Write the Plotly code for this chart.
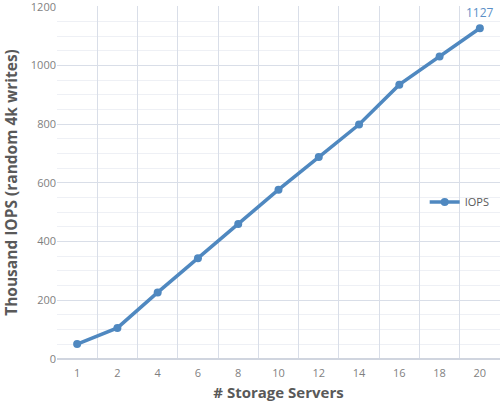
import plotly.graph_objects as go

servers = ["1", "2", "4", "6", "8", "10", "12", "14", "16", "18", "20"]
iops = [51, 106, 227, 343, 460, 577, 688, 799, 935, 1031, 1127]
y_ticks = [0, 200, 400, 600, 800, 1000, 1200]

blue = "#4f88c0"

fig = go.Figure()
fig.add_trace(go.Scatter(
    x=servers, y=iops, mode="lines+markers", name="IOPS",
    line=dict(color=blue, width=3.5),
    marker=dict(color=blue, size=8),
    cliponaxis=False,
))
fig.add_annotation(x=len(servers) - 1, y=iops[-1], text=str(iops[-1]), showarrow=False,
                   yshift=16, font=dict(family="Open Sans", size=12, color="#5b8fc7"))

fig.update_layout(
    width=500, height=406,
    margin=dict(l=57, r=0, t=6, b=47, autoexpand=False),
    paper_bgcolor="white", plot_bgcolor="white",
    font=dict(family="Open Sans", color="#7f7f7f", size=11),
    showlegend=True,
    legend=dict(x=0.83, y=0.445, xanchor="left", yanchor="middle",
                bgcolor="rgba(0,0,0,0)", font=dict(size=11, color="#595959"),
                itemwidth=30, tracegroupgap=0),
    xaxis=dict(
        type="category", range=[-0.5, 10.5], tickson="boundaries",
        showgrid=True, gridcolor="#d9dee8", gridwidth=1,
        ticks="", showline=False, zeroline=False, automargin=False,
        ticklabelstandoff=6,
        title=dict(text="<b># Storage Servers</b>", font=dict(size=15, color="#595959"), standoff=8),
        tickfont=dict(size=11, color="#7f7f7f"),
    ),
    yaxis=dict(
        range=[0, 1203], tickvals=y_ticks, showgrid=True, gridcolor="#d9dee8", gridwidth=1,
        minor=dict(dtick=50, showgrid=True, gridcolor="#eef0f5", gridwidth=1),
        zeroline=True, zerolinecolor="#d0d5df", zerolinewidth=1.5,
        ticks="", showline=False, automargin=False, ticklabeloverflow="allow",
        title=dict(text="<b>Thousand IOPS (random 4k writes)</b>", font=dict(size=15.5, color="#595959"), standoff=9),
        tickfont=dict(size=11, color="#7f7f7f"),
    ),
)

fig.write_html("out.html")
